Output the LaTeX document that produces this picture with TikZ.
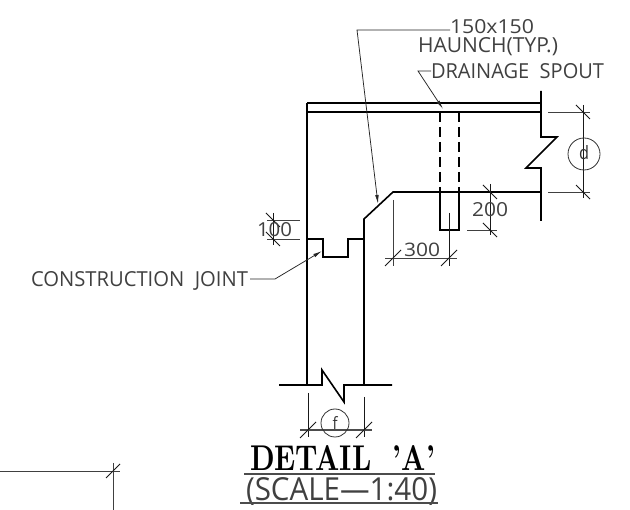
\documentclass[tikz,border=0pt]{standalone}
\usepackage{graphicx}
\usepackage{fontspec}
\setsansfont{Open Sans}
\usetikzlibrary{arrows.meta}
\newcommand{\fitT}[3]{\resizebox{#1pt}{#2pt}{\sffamily #3}}
\newcommand{\fitS}[3]{\resizebox{#1pt}{#2pt}{\rmfamily\bfseries #3}}
\tikzset{
  x=1pt,y=-1pt,
  thick line/.style={line width=1.6pt,black},
  thin line/.style={line width=0.8pt,black!75},
  tick line/.style={line width=0.9pt,black!90},
  leader/.style={line width=0.75pt,black!85},
  head/.style={-{Latex[length=9pt,width=3.6pt]}},
  label/.style={inner sep=0,outer sep=0,anchor=base west,text=black!75},
  bubble/.style={line width=0.8pt,black!80},
  rule/.style={line width=1.2pt,black!70}
}
\newcommand{\tick}[2]{\draw[tick line] (#1-8,#2+8) -- (#1+8,#2-8);}
\newcommand{\tickb}[2]{\draw[tick line] (#1-7,#2-7) -- (#1+7,#2+7);}
\begin{document}
\begin{tikzpicture}
\useasboundingbox (0,0) rectangle (630,510);
\fill[white] (0,0) rectangle (630,510);
% slab and wall
\draw[thick line] (307,103) -- (541,103);
\draw[thick line] (364,385) -- (364,219) -- (393,192) -- (541,192);
\draw[thick line] (307,385) -- (307,103);
\draw[thick line] (307,112) -- (541,112);
\draw[thick line] (541,91) -- (541,137) -- (557,137) -- (526,168) -- (541,168) -- (541,221);
% joint
\draw[thick line] (307,239) -- (323,239) -- (323,257) -- (348,257) -- (348,239) -- (364,239);
% break
\draw[thick line] (279,385) -- (322,385) -- (322,370) -- (344,402) -- (344,385) -- (392,385);
% spout
\draw[thick line,dash pattern=on 10pt off 5pt] (440,112) -- (440,192);
\draw[thick line,dash pattern=on 10pt off 5pt] (459,112) -- (459,192);
\draw[thick line] (440,192) -- (440,230) -- (459,230) -- (459,192);
% dim 100
\draw[thin line] (267,220) -- (300,220);
\draw[thin line] (267,239) -- (300,239);
\draw[tick line] (273,213) -- (273,245);
\tickb{273}{220}\tickb{273}{239}
\node[label] (t100) at (257,237) {\fitT{35}{14}{100}};
% dim 300
\draw[thin line] (393,200) -- (393,266);
\draw[tick line] (449,213) -- (449,266);
\draw[thin line] (385,258) -- (457,258);
\tick{393}{258}\tick{449}{258}
\node[label] (t300) at (404,257) {\fitT{36}{13.5}{300}};
% dim 200
\draw[tick line] (490,184) -- (490,235);
\draw[thin line] (467,230) -- (497,230);
\tickb{490}{192}\tickb{490}{230}
\node[label] (t200) at (472,217) {\fitT{36}{14}{200}};
% dim d
\draw[thin line] (548,112) -- (590,112);
\draw[thin line] (548,192) -- (590,192);
\draw[tick line] (583,105) -- (583,198);
\tickb{583}{112}\tickb{583}{192}
\node[circle,draw,bubble,minimum size=32pt,inner sep=0,fill=none] (cd) at (584,154) {};
\node[text=black!80,inner sep=0] (td) at (584,153) {\resizebox{10pt}{14pt}{\sffamily d}};
% dim f
\draw[tick line] (308,393) -- (308,437);
\draw[tick line] (364,397) -- (364,437);
\draw[rule] (300,430) -- (372,430);
\tick{308}{430}\tick{364}{430}
\node[circle,draw,bubble,minimum size=28pt,inner sep=0] (cf) at (335,423) {};
\node[text=black!80,inner sep=0] (tf) at (335,423) {\resizebox{5pt}{13pt}{\sffamily f}};
% leaders
\coordinate (h1) at (357,30); \coordinate (h2) at (450,30); \coordinate (h3) at (378,204);
\draw[leader,head] (h2) -- (h1) -- (h3);
\coordinate (s1) at (431,71); \coordinate (s2) at (418,71); \coordinate (s3) at (443,109);
\draw[leader,head] (s1) -- (s2) -- (s3);
\coordinate (c1) at (250,279); \coordinate (c2) at (275,279); \coordinate (c3) at (322,251);
\draw[leader,head] (c1) -- (c2) -- (c3);
% labels
\node[label] (a) at (450,33.5) {\fitT{84}{14}{150x150}};
\node[label] (b) at (418,52.5) {\fitT{140}{15}{HAUNCH(TYP.)}};
\node[label] (c) at (431,79) {\fitT{173}{15}{DRAINAGE\ \ SPOUT}};
\node[label] (e) at (31,287) {\fitT{217}{15}{CONSTRUCTION\ \ JOINT}};
% title
\node[label,text=black] (g) at (250,471) {\fitS{185}{25}{DETAIL\ \ 'A'}};
\draw[rule] (244,474) -- (435,474);
\node[label] (i) at (246,501) {\fitT{191}{23}{(SCALE---1:40)}};
\draw[rule] (240,503) -- (438,503);
% corner
\coordinate (k1) at (0,471); \coordinate (k2) at (120,471); \coordinate (k3) at (113,463); \coordinate (k4) at (113,510);
\draw[thin line] (k1) -- (k2);
\draw[thin line] (k3) -- (k4);
\draw[tick line] (106,478) -- (120,464);
\end{tikzpicture}
\end{document}
